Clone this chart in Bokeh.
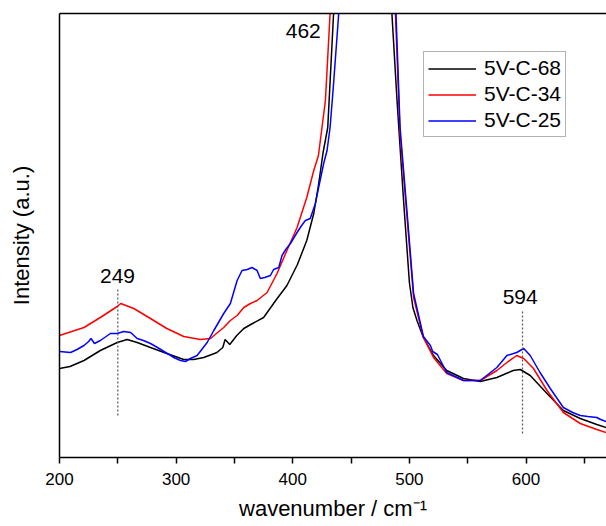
from bokeh.plotting import figure
from bokeh.models import Range1d, FixedTicker, LinearAxis, Label, Legend, LegendItem
from bokeh.embed import file_html
from bokeh.resources import INLINE

# ---------------- data ----------------
names = ["5V-C-68", "5V-C-34", "5V-C-25"]
colors = ["#000000", "#ff0000", "#0000ff"]

wn_68 = [200, 209, 221, 235, 249.5, 258, 266.6, 278, 292, 306.5, 315, 323.7, 335, 340, 342,
         346, 352, 358, 364, 375, 386, 395, 404, 412, 418, 422, 426, 430, 435, 445, 455, 462,
         470, 478, 485, 489.4, 495, 500, 503, 506.5, 512, 520.7, 532, 546.4, 560.8, 575, 589,
         595, 603.6, 618, 632, 646.5, 660.7, 668.7]
int_68 = [89, 91, 97, 107, 115, 118, 115, 110, 104, 98, 98, 100, 105, 110, 118,
          113, 122, 129, 133, 140, 158, 172, 193, 217, 244, 272, 305, 330, 444, 800, 1300, 1500,
          1300, 900, 444, 357, 257, 175, 150, 137, 120, 102, 87, 79, 76, 80, 87,
          88, 82, 64, 47, 39, 33, 30]

wn_34 = [200, 221, 235, 249.5, 252.5, 263.7, 278, 292, 306.5, 320.8, 329.4, 340.8, 346.5,
         352.3, 358, 363.7, 369.4, 378, 386.5, 395, 403.7, 412, 418, 422, 428, 432, 440, 450,
         462, 472, 482, 488, 492, 498, 503.6, 512, 520.7, 532, 546.4, 560.8, 575, 583.6, 592,
         598, 606.4, 618, 632, 646.5, 660.7, 668.7]
int_34 = [122, 130, 140, 151, 154, 149, 139, 129, 121, 118, 119, 130, 137,
          142, 150, 154, 157, 165, 184, 207, 230, 260, 287, 302, 357, 444, 800, 1300,
          1600, 1300, 800, 444, 324, 240, 160, 120, 100, 84, 77, 77, 87, 95, 102,
          99, 89, 67, 45, 34, 28, 25]

wn_25 = [200, 209.5, 215, 221, 225, 227, 230, 235, 240, 243.6, 249.5, 255, 261, 266.6, 272,
         278, 284, 289.6, 294, 298, 303.7, 308, 312.3, 318, 326.6, 332.3, 340.8, 346.5, 352.3,
         356.5, 361, 365, 369.4, 372.2, 376, 380.8, 383.6, 388, 390.8, 394, 398, 403.7, 407,
         410.8, 415, 419.4, 422, 426.5, 429.4, 432, 435, 439.4, 448, 456, 464, 474, 482, 488.5,
         492, 498, 503.6, 512, 518, 520, 524, 532, 546.4, 560.8, 575, 583.6, 592, 598, 603.6,
         612, 620.8, 632, 640, 646.5, 653, 660.7, 664, 668.7]
int_25 = [106, 105, 108, 112, 116, 119, 114, 117, 121, 124, 124, 126, 125, 119, 117,
          114, 110, 106, 103, 100, 97, 96, 99, 102, 115, 127, 144, 154, 177,
          187, 188, 190, 187, 179, 180, 182, 188, 190, 202, 208, 214, 225, 231,
          237, 239, 254, 269, 294, 307, 330, 374, 444, 900, 1400, 1600, 1300, 800, 444,
          330, 245, 164, 121, 112, 106, 103, 85, 77, 77, 90, 102, 105, 109, 102,
          85, 69, 50, 45, 42, 41, 40, 38, 36]

series_wn = [wn_68, wn_34, wn_25]
series_int = [int_68, int_34, int_25]

x_ticks = [200, 300, 400, 500, 600]
x_minor = [250, 350, 450, 550, 650]

peak_labels = ["249", "462", "594"]
x_title = "wavenumber / cm\u207b\u00b9"
y_title = "Intensity (a.u.)"

FONT = "Liberation Sans"

# ---------------- figure ----------------
p = figure(width=606, height=526, output_backend="svg", toolbar_location=None,
           x_range=Range1d(200, 669), y_range=Range1d(0, 444),
           min_border_left=59, min_border_right=0, min_border_top=13, min_border_bottom=69)
p.xgrid.visible = False
p.ygrid.visible = False
p.outline_line_color = None
p.background_fill_color = "white"
p.border_fill_color = "white"

# bottom axis
xa = p.xaxis[0]
xa.ticker = FixedTicker(ticks=x_ticks, minor_ticks=x_minor)
xa.axis_line_width = 1.5
xa.axis_line_color = "black"
xa.major_tick_in = 0
xa.major_tick_out = 6
xa.minor_tick_in = 0
xa.minor_tick_out = 6
xa.major_tick_line_width = 1.5
xa.minor_tick_line_width = 1.5
xa.major_label_text_font = FONT
xa.major_label_text_font_size = "17px"
xa.major_label_text_color = "black"
xa.major_label_standoff = 9
xa.axis_label = x_title
xa.axis_label_text_font = FONT
xa.axis_label_text_font_size = "22px"
xa.axis_label_text_font_style = "normal"
xa.axis_label_text_color = "black"
xa.axis_label_standoff = 8

# left axis (no ticks)
ya = p.yaxis[0]
ya.ticker = FixedTicker(ticks=[])
ya.axis_line_width = 1.5
ya.axis_line_color = "black"
ya.major_tick_out = 0
ya.major_tick_in = 0
ya.minor_tick_out = 0
ya.minor_tick_in = 0
ya.axis_label = y_title
ya.axis_label_text_font = FONT
ya.axis_label_text_font_size = "22px"
ya.axis_label_text_font_style = "normal"
ya.axis_label_text_color = "black"
ya.axis_label_standoff = 26

# top frame line
top = LinearAxis(ticker=FixedTicker(ticks=[]), axis_line_width=1.5, axis_line_color="black",
                 major_tick_out=0, major_tick_in=0, minor_tick_out=0, minor_tick_in=0)
p.add_layout(top, "above")

# spectra
items = []
for wn, inten, name, col in zip(series_wn, series_int, names, colors):
    r = p.line(wn, inten, line_color=col, line_width=1.5)
    items.append(LegendItem(label=name, renderers=[r]))

# peak markers (dotted) and labels
p.segment(x0=[250, 597], y0=[42, 24], x1=[250, 597], y1=[169, 146],
          line_color="#555555", line_width=1.2, line_dash="2 2")
for txt, lx, ly in zip(peak_labels, [249.7, 409, 595], [182, 427, 161]):
    p.add_layout(Label(x=lx, y=ly, text=txt, text_align="center", text_baseline="middle",
                       text_font=FONT, text_font_size="21px", text_color="black"))

legend = Legend(items=items, location=(364, 320), orientation="vertical",
                label_text_font=FONT, label_text_font_size="21px", label_text_color="black",
                glyph_width=48, glyph_height=23, label_height=23, spacing=2,
                padding=4, margin=0, label_standoff=8,
                border_line_color="#666666", border_line_width=1.2,
                background_fill_color="white", background_fill_alpha=1)
p.add_layout(legend)

open("out.html", "w").write(file_html(p, INLINE))
